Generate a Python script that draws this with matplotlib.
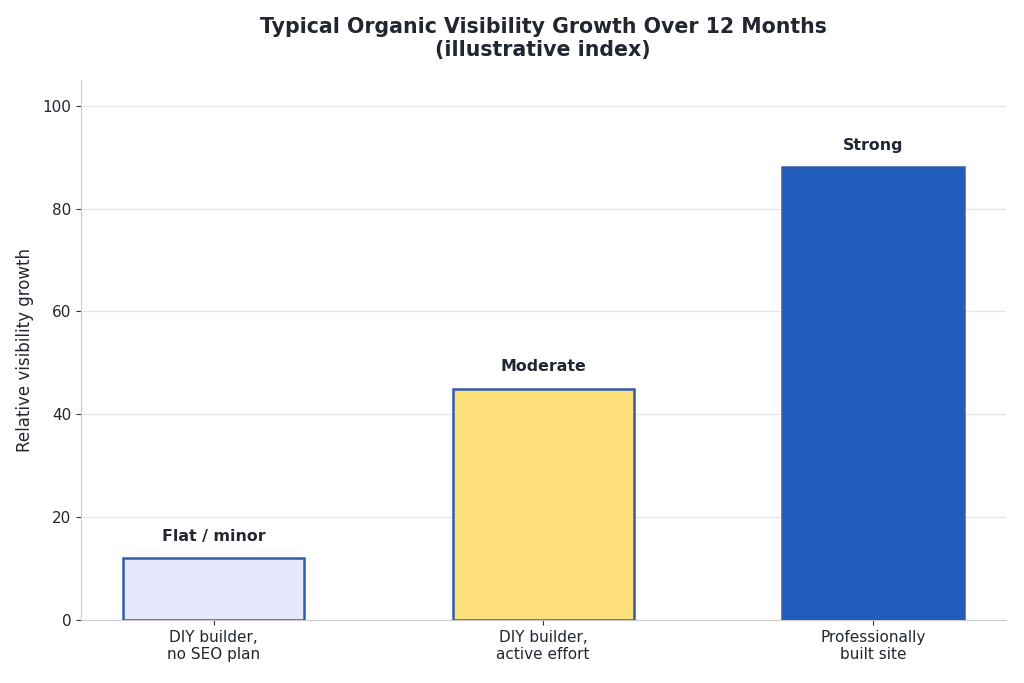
import matplotlib.pyplot as plt

categories = ['DIY builder,\nno SEO plan', 'DIY builder,\nactive effort', 'Professionally\nbuilt site']
values = [12, 45, 88]
labels = ['Flat / minor', 'Moderate', 'Strong']
fills = ['#E5E9FB', '#FDE07A', '#215CBB']

text_color = '#222631'
fig = plt.figure(figsize=(10.24, 6.83), dpi=100)
ax = fig.add_axes([0.079, 0.092, 0.903, 0.791])

x = range(len(categories))
ax.bar(x, values, width=0.55, color=fills, edgecolor='#2F5DAA', linewidth=1.8, zorder=3)
for i, (v, lab) in enumerate(zip(values, labels)):
    ax.text(i, v + 2.8, lab, ha='center', va='bottom', fontsize=11.4, fontweight='bold', color=text_color)

ax.set_xticks(list(x))
ax.set_xticklabels(categories, fontsize=11, color=text_color)
ax.set_ylim(0, 105)
ax.set_yticks([0, 20, 40, 60, 80, 100])
ax.tick_params(axis='y', labelsize=11, colors=text_color)
ax.tick_params(axis='both', color='#333333')
ax.set_ylabel('Relative visibility growth', fontsize=12, color=text_color, labelpad=6)
ax.yaxis.grid(True, color='#E6E6E6', linewidth=1, zorder=0)
ax.set_axisbelow(True)
for s in ['top', 'right']:
    ax.spines[s].set_visible(False)
for s in ['left', 'bottom']:
    ax.spines[s].set_color('#CCCCCC')

ax.set_title('Typical Organic Visibility Growth Over 12 Months\n(illustrative index)',
             fontsize=14.8, fontweight='bold', color=text_color, pad=17)

fig.savefig('out.png', dpi=100)
